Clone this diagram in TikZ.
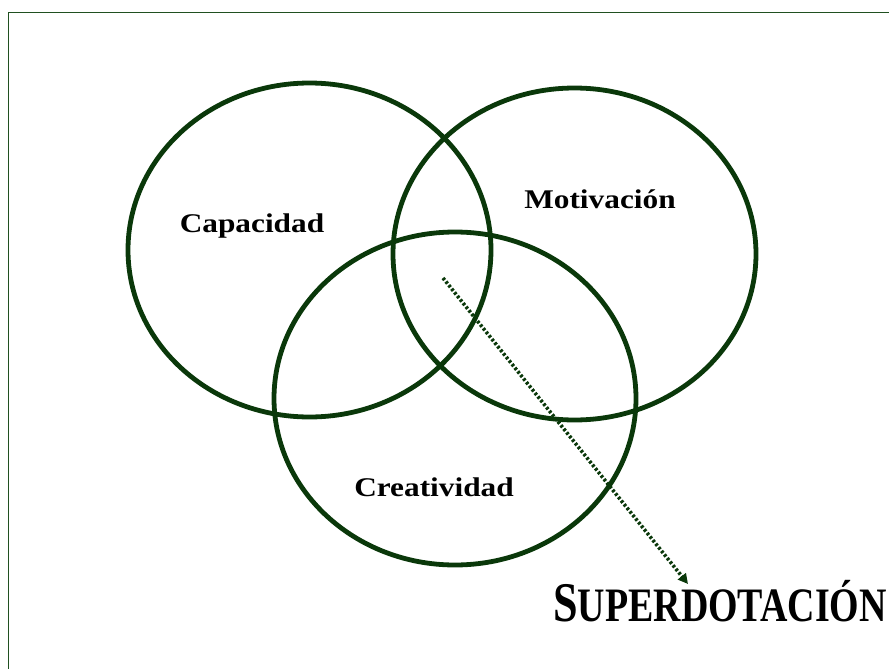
\documentclass[tikz,border=0pt]{standalone}
\usepackage{fontspec}
\setmainfont{Liberation Serif}
\newfontfamily\labfont[FakeStretch=1.16]{Liberation Serif}
\newfontfamily\supfont[FakeStretch=0.79]{Liberation Serif}
\usetikzlibrary{arrows.meta}
\definecolor{ringgreen}{RGB}{10,56,10}
\definecolor{framegreen}{RGB}{32,80,32}
\tikzset{
  ring/.style={draw=ringgreen, line width=4.8pt},
  lab/.style={font=\labfont\bfseries\fontsize{27}{30}\selectfont, anchor=base, inner sep=0pt},
  pointer/.style={draw=ringgreen, line width=3.6pt, dash pattern=on 2.6pt off 2pt,
     -{Triangle[length=10pt,width=10pt]}},
}
\begin{document}
\begin{tikzpicture}[x=1pt,y=-1pt]
\useasboundingbox (0,0) rectangle (889,669);
\clip (0,0) rectangle (889,669);
\draw[framegreen, line width=1.6pt] (8.5,12.5) rectangle (900,680);
\draw[ring] (309.5,250) ellipse [x radius=181.5, y radius=167];
\draw[ring] (574.5,254) ellipse [x radius=181.5, y radius=166];
\draw[ring] (455,398.5) ellipse [x radius=181, y radius=166.5];
\node[lab] (cap) at (252,232) {Capacidad};
\node[lab] (mot) at (600,208) {Motivación};
\node[lab] (cre) at (434,496) {Creatividad};
\coordinate (start) at (443,278);
\coordinate (tip) at (688,584);
\draw[pointer] (start) -- (tip);
\node[anchor=base west, inner sep=0pt, font=\supfont\bfseries] (sup) at (553,621)
  {\fontsize{56}{60}\selectfont S\fontsize{48}{52}\selectfont UPERDOTACIÓN};
\end{tikzpicture}
\end{document}
